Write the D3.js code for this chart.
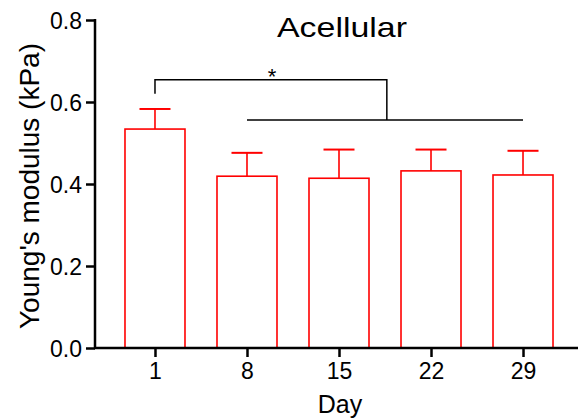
<!DOCTYPE html>
<html><head><meta charset="utf-8">
<script src="https://cdn.jsdelivr.net/npm/d3@7"></script>
<style>body{margin:0;background:#fff}svg{display:block}text{font-family:"Liberation Sans",Arial,sans-serif;fill:#000}</style>
</head><body>
<script>
const days = ["1","8","15","22","29"];
const means = [0.534, 0.419, 0.414, 0.432, 0.422];
const errTops = [0.583, 0.476, 0.484, 0.484, 0.481];
const yTicks = [0.0, 0.2, 0.4, 0.6, 0.8];
const title = "Acellular";
const yLabel = "Young's modulus (kPa)";
const xLabel = "Day";

const W = 578, H = 420;
const svg = d3.select("body").append("svg").attr("width", W).attr("height", H);

const x = d3.scalePoint().domain(days).range([95, 583]).padding(0.652);
const y = d3.scaleLinear().domain([0, 0.8]).range([348, 20]);
const barW = 60, capW = 31;

// bars
const g = svg.append("g");
g.selectAll("rect.bar").data(days).join("rect")
  .attr("x", d => x(d) - barW/2).attr("width", barW)
  .attr("y", (d,i) => y(means[i])).attr("height", (d,i) => y(0) - y(means[i]))
  .attr("fill", "none").attr("stroke", "#ff0000").attr("stroke-width", 1.6);
g.selectAll("line.err").data(days).join("line")
  .attr("x1", d => x(d)).attr("x2", d => x(d))
  .attr("y1", (d,i) => y(means[i])).attr("y2", (d,i) => y(errTops[i]))
  .attr("stroke", "#ff0000").attr("stroke-width", 1.6);
g.selectAll("line.cap").data(days).join("line")
  .attr("x1", d => x(d) - capW/2).attr("x2", d => x(d) + capW/2)
  .attr("y1", (d,i) => y(errTops[i])).attr("y2", (d,i) => y(errTops[i]))
  .attr("stroke", "#ff0000").attr("stroke-width", 2);

// axes
const yAxis = d3.axisLeft(y).tickValues(yTicks).tickFormat(d3.format(".1f")).tickSize(9).tickPadding(4);
const ya = svg.append("g").attr("transform", "translate(95,0)").call(yAxis);
ya.select(".domain").attr("stroke-width", 2.5).attr("d", "M0,19V348");
ya.selectAll(".tick line").attr("stroke-width", 2.5);
ya.selectAll("text").attr("font-size", 23).attr("dy", "0.36em");

const xAxis = d3.axisBottom(x).tickSize(9).tickPadding(6);
const xa = svg.append("g").attr("transform", "translate(0,348)").call(xAxis);
xa.select(".domain").attr("stroke-width", 2.5).attr("d", "M94,0H578");
xa.selectAll(".tick line").attr("stroke-width", 2.5);
xa.selectAll("text").attr("font-size", 23).attr("dy", "0.71em");

svg.selectAll(".domain, .tick line").attr("stroke", "#000");
svg.selectAll(".tick text").attr("font-family", '"Liberation Sans",Arial,sans-serif');

// significance bracket
const sig = svg.append("g").attr("stroke", "#000").attr("stroke-width", 1.5).attr("fill", "none");
const yTopBr = y(0.654), yLowBr = y(0.556), yStartBr = y(0.620);
const midX = x("15") + (x("22") - x("15")) * 0.52;
sig.append("path").attr("d", `M${x("1")},${yStartBr}V${yTopBr}H${midX}V${yLowBr}`);
sig.append("line").attr("x1", x("8")).attr("x2", x("29")).attr("y1", yLowBr).attr("y2", yLowBr);
svg.append("text").attr("x", (x("1") + midX)/2 + 1).attr("y", yTopBr + 4).attr("text-anchor", "middle")
  .attr("font-size", 22).text("*");

// labels
svg.append("text").attr("x", 342).attr("y", 37).attr("text-anchor", "middle").attr("font-size", 28)
  .attr("textLength", 130).attr("lengthAdjust", "spacingAndGlyphs").text(title);
svg.append("text").attr("transform", "translate(39,186) rotate(-90)").attr("text-anchor", "middle")
  .attr("font-size", 28).text(yLabel);
svg.append("text").attr("x", 340).attr("y", 413).attr("text-anchor", "middle").attr("font-size", 25).text(xLabel);
</script>
</body></html>
